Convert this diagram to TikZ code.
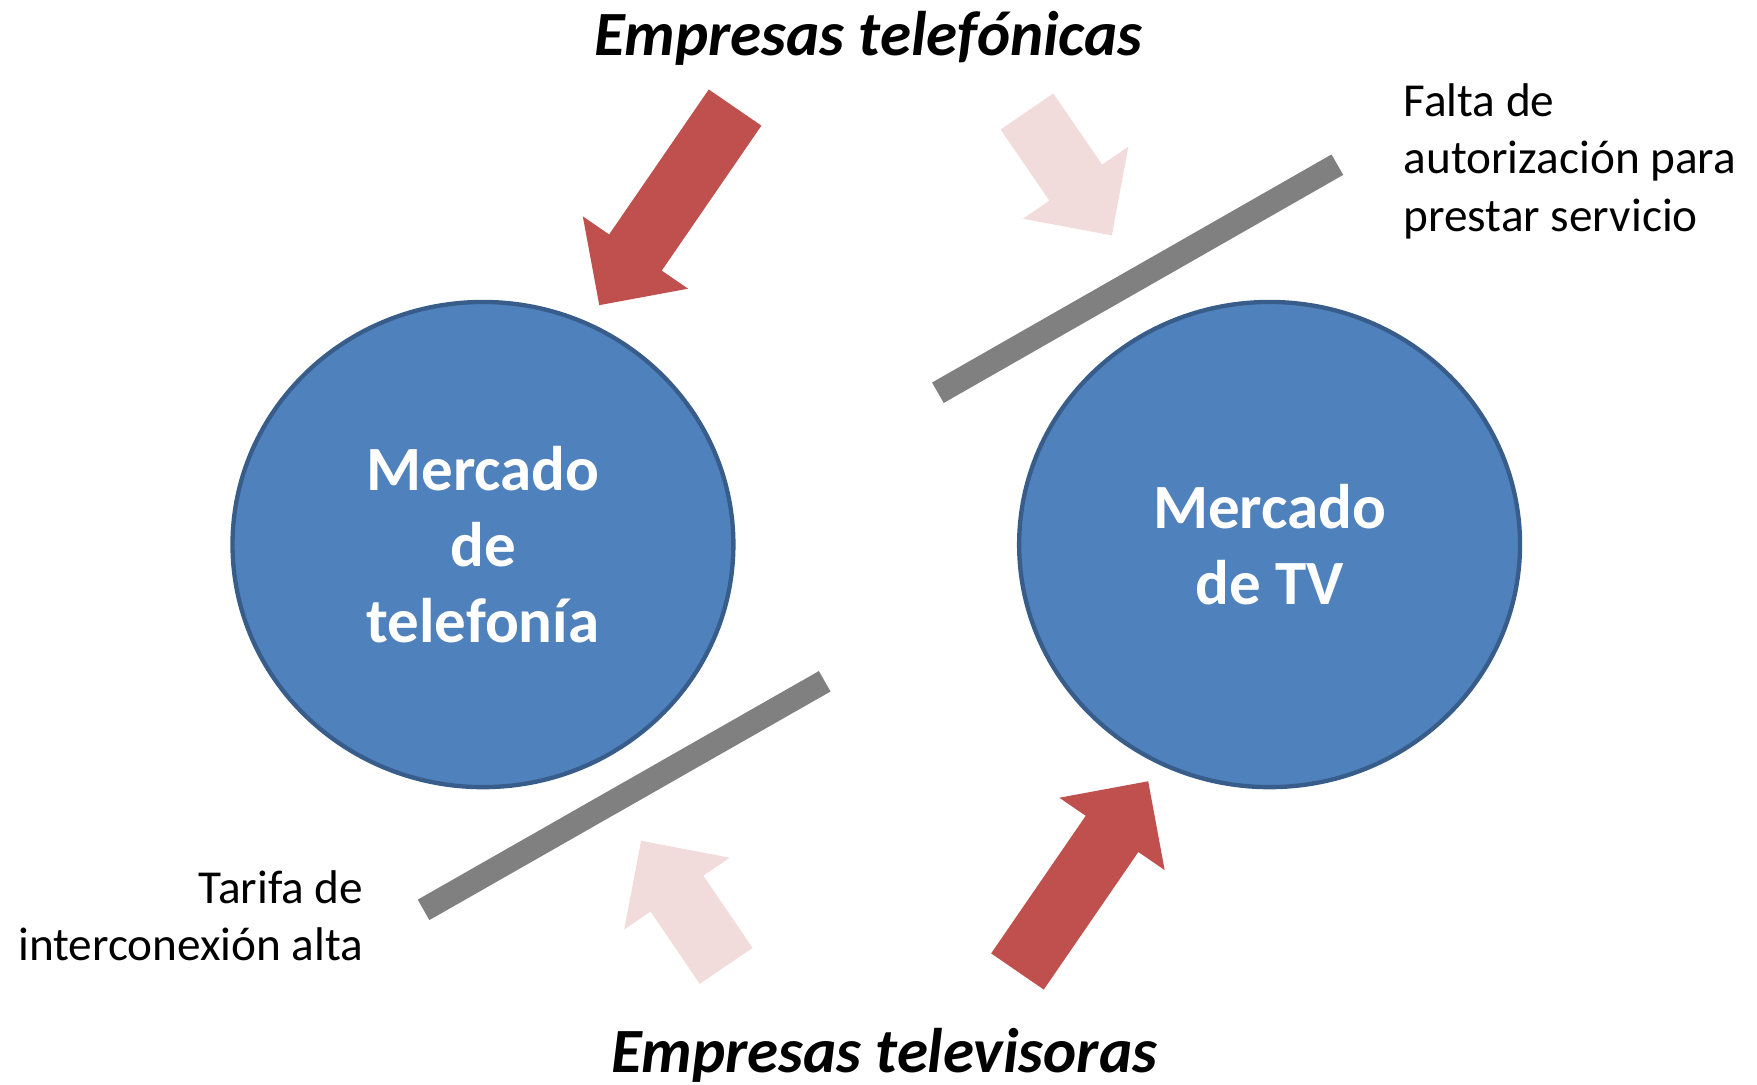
\documentclass[tikz,border=0pt]{standalone}
\usepackage{fontspec}
\setmainfont{Carlito}
\usetikzlibrary{shapes.geometric}
\definecolor{mblue}{HTML}{4F81BD}
\definecolor{mborder}{HTML}{385D8A}
\definecolor{fred}{HTML}{C0504D}
\definecolor{fpink}{HTML}{F2DCDB}
\definecolor{bgray}{HTML}{808080}
\tikzstyle{mercado} = [ellipse, minimum width=4.47cm, minimum height=4.33cm, fill=mblue, draw=mborder, line width=1.1pt, text=white, align=center, font=\bfseries\fontsize{16}{19.4}\selectfont]
\tikzstyle{titulo} = [font=\bfseries\itshape\fontsize{16}{19.4}\selectfont]
\tikzstyle{nota} = [inner sep=0pt, font=\fontsize{12}{14.5}\selectfont]
\tikzstyle{barrera} = [line width=0.21cm, draw=bgray]
\tikzset{pics/flecha/.style={code={
    \fill (0,-0.285) -- ({#1-0.57},-0.285) -- ({#1-0.57},-0.57) -- (#1,0)
      -- ({#1-0.57},0.57) -- ({#1-0.57},0.285) -- (0,0.285) -- cycle;}}}

\begin{document}
\begin{tikzpicture}
    \useasboundingbox (0,0) rectangle (15.68,9.68);

    \node at (4.31,4.82) [mercado] (telefonia) {Mercado\\de\\telefonía};
    \node at (11.33,4.82) [mercado] (tv) {Mercado\\de TV};

    \node at (7.75,9.34) [titulo] (telefonicas) {Empresas telefónicas};
    \node at (7.89,0.26) [titulo] (televisoras) {Empresas televisoras};

    \node at (12.52,8.24) [nota,anchor=west,align=left] (falta) {Falta de\\autorización para\\prestar servicio};
    \node at (3.25,1.505) [nota,anchor=east,align=right] (tarifa) {Tarifa de\\interconexión alta};

    % barreras
    \coordinate (b1a) at (8.37,6.175);
    \coordinate (b1b) at (11.935,8.21);
    \coordinate (b2a) at (3.78,1.56);
    \coordinate (b2b) at (7.36,3.60);
    \draw[barrera] (b1a) -- (b1b);
    \draw[barrera] (b2a) -- (b2b);

    % flechas
    \pic[color=fred,rotate=235.5] (f1) at (6.56,8.72) {flecha=2.14};
    \pic[color=fpink,rotate=304.4] (f2) at (9.165,8.685) {flecha=1.34};
    \pic[color=fpink,rotate=124.2] (f3) at (6.48,1.06) {flecha=1.35};
    \pic[color=fred,rotate=55.5] (f4) at (9.08,1.01) {flecha=2.06};

\end{tikzpicture}
\end{document}
